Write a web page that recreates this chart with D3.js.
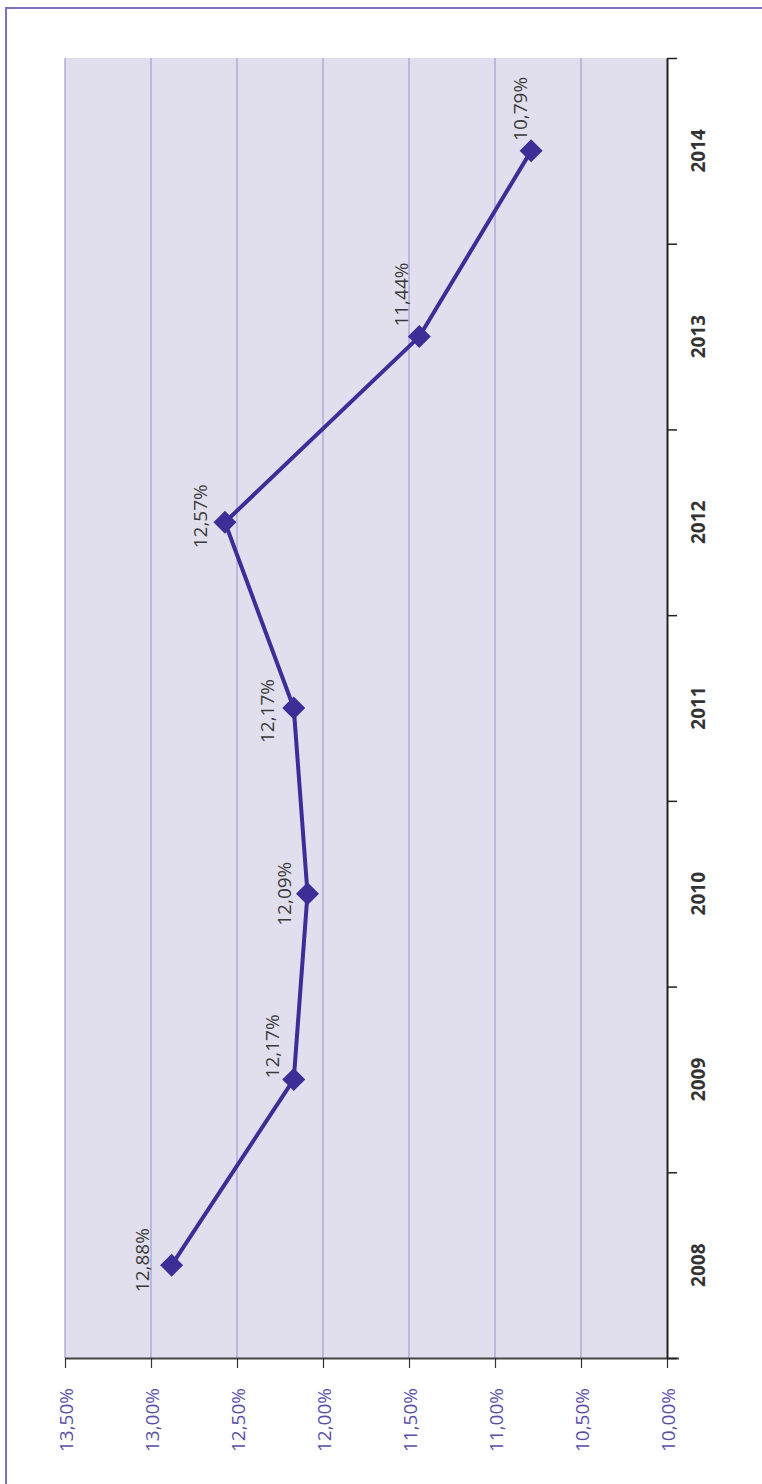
<!DOCTYPE html>
<html>
<head>
<meta charset="utf-8">
<script src="https://cdn.jsdelivr.net/npm/d3@7"></script>
<style>
  html, body { margin: 0; padding: 0; background: #ffffff; }
  svg { display: block; }
</style>
</head>
<body>
<svg id="chart" width="762" height="1484"></svg>
<script>
// ---- data ----
const years = ["2008", "2009", "2010", "2011", "2012", "2013", "2014"];
const values = [12.88, 12.17, 12.09, 12.17, 12.57, 11.44, 10.79];
const valueTicks = [13.5, 13.0, 12.5, 12.0, 11.5, 11.0, 10.5, 10.0];
const valueTickLabels = ["13,50%", "13,00%", "12,50%", "12,00%", "11,50%", "11,00%", "10,50%", "10,00%"];
const pointLabels = ["12,88%", "12,17%", "12,09%", "12,17%", "12,57%", "11,44%", "10,79%"];

// ---- layout ----
const W = 762, H = 1484;
const plot = { left: 65, right: 667, top: 58, bottom: 1358 };
// label placement nudges (layout, not data)
const labelNudge = [[-30, -5], [-22, -33], [-24, 0], [-27, 3], [-25, -6], [-18, -42], [-11, -42]];

const svg = d3.select("#chart");

// frame
svg.append("path")
  .attr("d", `M6,${H} L6,8 L${W},8`)
  .attr("fill", "none")
  .attr("stroke", "#7a70c0")
  .attr("stroke-width", 2);

// scales: rotated chart, values along x (reversed), years along y (bottom-up)
const x = d3.scaleLinear().domain([13.5, 10]).range([plot.left, plot.right]);
const yBand = d3.scaleBand().domain(years).range([plot.bottom, plot.top]).padding(0);
const yEdge = d3.scaleLinear().domain([0, years.length]).range([plot.bottom, plot.top]);

// plot background
svg.append("rect")
  .attr("x", plot.left).attr("y", plot.top)
  .attr("width", plot.right - plot.left).attr("height", plot.bottom - plot.top)
  .attr("fill", "#e1dfee");

// gridlines
svg.append("g").selectAll("line")
  .data(valueTicks.filter(v => v !== 10))
  .join("line")
  .attr("x1", d => x(d)).attr("x2", d => x(d))
  .attr("y1", plot.top).attr("y2", plot.bottom)
  .attr("stroke", "#a49dd3")
  .attr("stroke-width", 1.2);

// value axis (bottom)
const vAxis = svg.append("g")
  .attr("transform", `translate(0,${plot.bottom})`)
  .call(d3.axisBottom(x).tickValues(valueTicks).tickSize(10)
    .tickFormat((d, i) => valueTickLabels[i]).tickSizeOuter(0));
vAxis.select(".domain").attr("stroke", "#444").attr("stroke-width", 2)
  .attr("d", `M${plot.left},0.5H${plot.right + 12}`);
vAxis.selectAll(".tick line").attr("stroke", "#333").attr("stroke-width", 1.2);
vAxis.selectAll(".tick text")
  .attr("fill", "#5a4fa8")
  .attr("font-family", "'Open Sans', 'Liberation Sans', sans-serif")
  .attr("font-size", 19)
  .attr("text-anchor", "end")
  .attr("dominant-baseline", "central")
  .attr("dy", null)
  .attr("y", 0)
  .attr("transform", "translate(0,30) rotate(-90)");

// category axis (right side), ticks at band edges
const cAxis = svg.append("g")
  .attr("transform", `translate(${plot.right},0)`)
  .call(d3.axisRight(yEdge).tickValues(d3.range(years.length + 1)).tickSize(10)
    .tickFormat("").tickSizeOuter(0));
cAxis.select(".domain").attr("stroke", "#222").attr("stroke-width", 2);
cAxis.selectAll(".tick line").attr("stroke", "#222").attr("stroke-width", 1.5);

svg.append("g").selectAll("text")
  .data(years)
  .join("text")
  .attr("transform", d => `translate(${plot.right + 31},${yBand(d) + yBand.bandwidth() / 2}) rotate(-90)`)
  .attr("text-anchor", "middle")
  .attr("dominant-baseline", "central")
  .attr("font-family", "'Open Sans', 'DejaVu Sans', sans-serif")
  .attr("font-weight", "bold")
  .attr("font-size", 19)
  .attr("fill", "#333")
  .text(d => d);

// line
const pts = years.map((yr, i) => ({ yr, v: values[i], lbl: pointLabels[i], i }));
const line = d3.line()
  .x(d => x(d.v))
  .y(d => yBand(d.yr) + yBand.bandwidth() / 2);
svg.append("path")
  .datum(pts)
  .attr("d", line)
  .attr("fill", "none")
  .attr("stroke", "#3c2e97")
  .attr("stroke-width", 4)
  .attr("stroke-linejoin", "round");

// markers
svg.append("g").selectAll("path")
  .data(pts)
  .join("path")
  .attr("transform", d => `translate(${x(d.v)},${yBand(d.yr) + yBand.bandwidth() / 2})`)
  .attr("d", "M0,-11.5L11.5,0L0,11.5L-11.5,0Z")
  .attr("fill", "#3c2e97");

// point labels
svg.append("g").selectAll("text")
  .data(pts)
  .join("text")
  .attr("transform", d => {
    const cx = x(d.v) + labelNudge[d.i][0];
    const cy = yBand(d.yr) + yBand.bandwidth() / 2 + labelNudge[d.i][1];
    return `translate(${cx},${cy}) rotate(-90)`;
  })
  .attr("text-anchor", "middle")
  .attr("dominant-baseline", "central")
  .attr("font-family", "'Open Sans', 'Liberation Sans', sans-serif")
  .attr("font-size", 19)
  .attr("fill", "#3a3a3a")
  .text(d => d.lbl);
</script>
</body>
</html>
